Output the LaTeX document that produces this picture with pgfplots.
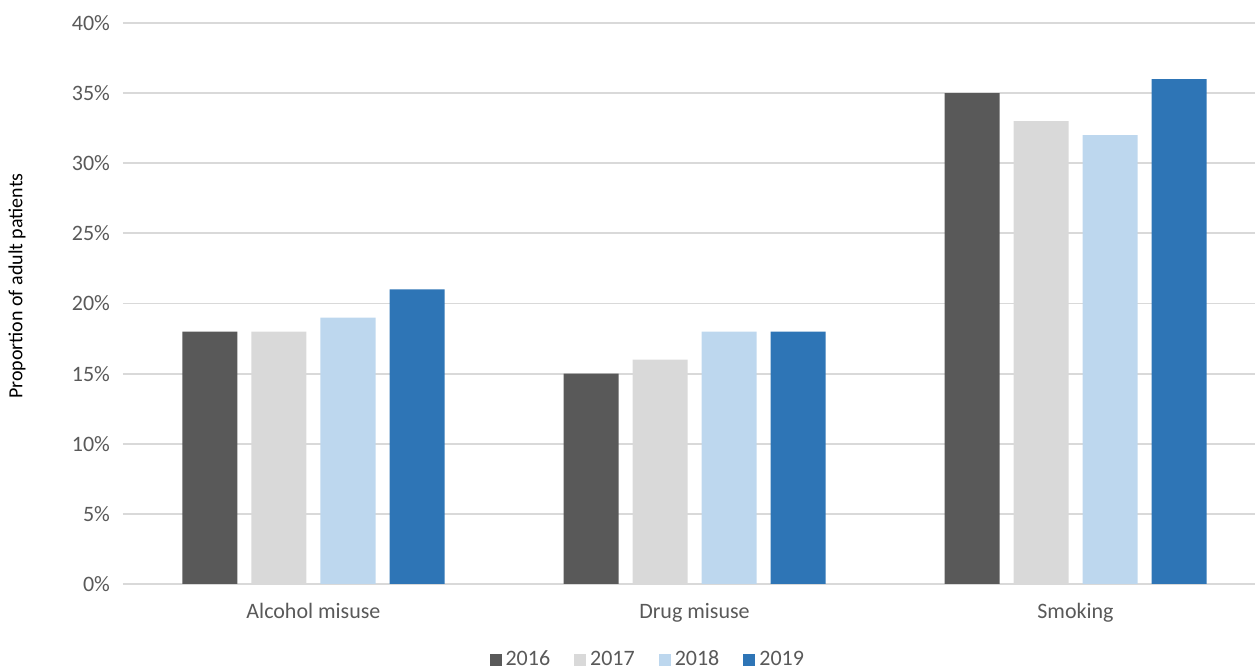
\documentclass[border=0pt]{standalone}
\usepackage{pgfplots}
\pgfplotsset{compat=1.18}
\usepackage{fontspec}
\setmainfont{Carlito}

\definecolor{txtgray}{HTML}{595959}
\definecolor{gridgray}{HTML}{D9D9D9}
\definecolor{c2016}{HTML}{595959}
\definecolor{c2017}{HTML}{D9D9D9}
\definecolor{c2018}{HTML}{BDD7EE}
\definecolor{c2019}{HTML}{2E75B6}

\begin{document}
\begin{tikzpicture}
% fixed canvas
\useasboundingbox (-61.5pt,-43pt) rectangle (566pt,292pt);
\begin{axis}[
  at={(0,0)}, anchor=south west,
  scale only axis,
  width=571.5pt, height=280.5pt,
  xmin=-0.5, xmax=2.5,
  ymin=0, ymax=40,
  ytick={0,5,...,40},
  yticklabel={\pgfmathprintnumber{\tick}\%},
  /pgf/number format/assume math mode=true,
  xtick={0,1,2},
  xticklabels={Alcohol misuse,Drug misuse,Smoking},
  ymajorgrids,
  grid style={gridgray, line width=0.9pt},
  axis lines*=left,
  x axis line style={gridgray, line width=0.9pt, -},
  y axis line style={draw=none},
  major tick length=0pt,
  tick label style={font=\fontsize{11}{13}\selectfont, text=txtgray},
  xticklabel style={yshift=-6pt},
  yticklabel style={xshift=-3pt},
  ylabel={Proportion of adult patients},
  ylabel style={font=\fontsize{11.5}{13}\selectfont, text=txtgray},
  every axis y label/.style={at={(axis description cs:-0.0927,0.531)}, rotate=90, anchor=center},
  ybar, bar width=27.5pt,
  legend style={at={(axis description cs:0.46,-0.135)}, anchor=center, draw=none,
    legend columns=4, font=\fontsize{11}{13}\selectfont, text=txtgray,
    /tikz/every even column/.append style={column sep=10pt}},
  legend image code/.code={\fill[#1] (0pt,-3pt) rectangle (6pt,3pt);},
]
\addplot[fill=c2016, draw=none, bar shift=-51.75pt] coordinates {(0,18) (1,15) (2,35)};
\addplot[fill=c2017, draw=none, bar shift=-17.25pt] coordinates {(0,18) (1,16) (2,33)};
\addplot[fill=c2018, draw=none, bar shift=17.25pt] coordinates {(0,19) (1,18) (2,32)};
\addplot[fill=c2019, draw=none, bar shift=51.75pt] coordinates {(0,21) (1,18) (2,36)};
\legend{2016,2017,2018,2019}
\end{axis}
\end{tikzpicture}
\end{document}
